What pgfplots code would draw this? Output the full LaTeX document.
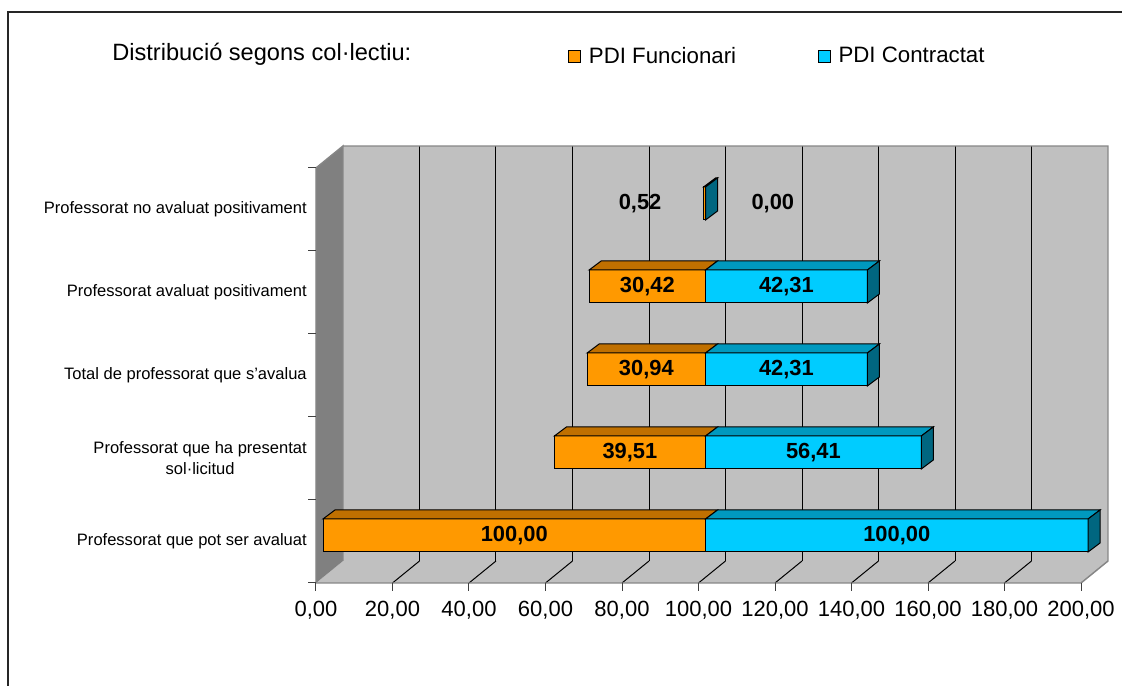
\documentclass[border=0pt]{standalone}
\usepackage{pgfplots}
\pgfplotsset{compat=1.18}
\usepackage{pgfplotstable}
\usepackage{fontspec}
\setmainfont{Liberation Sans}
\definecolor{forange}{HTML}{FF9900}
\definecolor{forangetop}{HTML}{C07000}
\definecolor{ccyan}{HTML}{00CCFF}
\definecolor{ccyantop}{HTML}{0099BF}
\definecolor{ccyanside}{HTML}{006680}
\definecolor{wall}{HTML}{C0C0C0}
\definecolor{sidewall}{HTML}{808080}
\definecolor{edge}{HTML}{868686}

\pgfplotstableread{
y F C
0 100.00 100.00
1 39.51 56.41
2 30.94 42.31
3 30.42 42.31
4 0.52 0.00
}\datatable

\pgfplotstableread{
x y l
50 0 100,00
150 0 100,00
80.245 1 39,51
128.205 1 56,41
84.53 2 30,94
121.155 2 42,31
84.79 3 30,42
121.155 3 42,31
82.9 4 0,52
117.6 4 0,00
}\labeltable

\tikzset{
  front/.style={shift={(-5.25pt,-4.5pt)}},
  back/.style={shift={(15pt,12pt)}},
  bdepth/.style={shift={(9pt,6.75pt)}},
}
\pgfplotsset{
  frame/.style={
    at={(242.25pt,81.75pt)}, anchor=south west,
    scale only axis, width=573.75pt, height=311.25pt,
    xmin=0, xmax=200, ymin=-0.5, ymax=4.5,
    clip=false,
  },
}

\begin{document}
\begin{tikzpicture}
\useasboundingbox (0,0) rectangle (841.5pt,514.5pt);
\draw[line width=1pt, black!85] (6pt,-15pt) -- (6pt,505.5pt) -- (855pt,505.5pt);
\node[anchor=base west, inner sep=0pt, font=\fontsize{17.7}{21}\selectfont] at (84pt,468.75pt) {Distribució segons col·lectiu:};
% ---------- background: walls, floor, grid, ticks, tick labels
\begin{axis}[frame,
  axis line style={draw=none},
  tick style={draw=none},
  xtick={0,20,40,60,80,100,120,140,160,180,200},
  xticklabels={{0,00},{20,00},{40,00},{60,00},{80,00},{100,00},{120,00},{140,00},{160,00},{180,00},{200,00}},
  xticklabel style={anchor=base, yshift=-30pt, xshift=-5.25pt, inner sep=0pt, font=\fontsize{16.5}{20}\selectfont},
  ytick={0,1,2,3,4},
  yticklabels={{Professorat que pot ser avaluat},{Professorat que ha presentat\\sol·licitud},{Total de professorat que s’avalua},{Professorat avaluat positivament},{Professorat no avaluat positivament}},
  yticklabel style={anchor=east, xshift=-12pt, yshift=-4.5pt, inner sep=0pt, align=center, font=\fontsize{12.4}{15.75}\selectfont},
]
\addplot[draw=none, forget plot] coordinates {(0,-0.5) (200,4.5)};
\fill[wall] ([back]axis cs:0,-0.5) rectangle ([back]axis cs:200,4.5);
\fill[wall] ([front]axis cs:0,-0.5) -- ([front]axis cs:200,-0.5) -- ([back]axis cs:200,-0.5) -- ([back]axis cs:0,-0.5) -- cycle;
\fill[sidewall] ([front]axis cs:0,-0.5) -- ([back]axis cs:0,-0.5) -- ([back]axis cs:0,4.5) -- ([front]axis cs:0,4.5) -- cycle;
\foreach \v in {20,40,60,80,100,120,140,160,180}{
  \edef\temp{\noexpand\draw[black, line width=0.75pt] ([back]axis cs:\v,-0.5) -- ([back]axis cs:\v,4.5);
  \noexpand\draw[black, line width=0.75pt] ([front]axis cs:\v,-0.5) -- ([back]axis cs:\v,-0.5);}
  \temp
}
\draw[edge, line width=1.1pt] ([back]axis cs:0,4.5) -- ([back]axis cs:200,4.5) -- ([back]axis cs:200,-0.5) -- ([front]axis cs:200,-0.5) -- ([front]axis cs:0,-0.5) -- ([front]axis cs:0,4.5) -- ([back]axis cs:0,4.5) -- ([back]axis cs:0,-0.5);
\foreach \v in {0,20,40,60,80,100,120,140,160,180,200}{
  \edef\temp{\noexpand\draw[black!75, line width=0.75pt] ([front]axis cs:\v,-0.5) -- ([front,yshift=-6pt]axis cs:\v,-0.5);}
  \temp
}
\foreach \v in {-0.5,0.5,1.5,2.5,3.5,4.5}{
  \edef\temp{\noexpand\draw[black!75, line width=0.75pt] ([front]axis cs:0,\v) -- ([front,xshift=-6pt]axis cs:0,\v);}
  \temp
}
\end{axis}
% ---------- bars
\begin{axis}[frame, hide axis,
  xbar stacked, bar width=24.75pt,
  legend style={at={(axis description cs:0.3203,1.2554)}, anchor=west, draw=none, fill=none, inner sep=0pt, legend columns=-1, font=\fontsize{16.7}{19}\selectfont, /tikz/every odd column/.append style={column sep=3.75pt}, /tikz/every even column/.append style={column sep=59.25pt}},
  legend image code/.code={\filldraw[#1, draw=black, line width=0.75pt] (0pt,-4.5pt) rectangle (9pt,4.5pt);},
]
\addplot[draw=none, fill=none, forget plot] table[x expr=100-\thisrow{F}, y=y] {\datatable};
\addplot[fill=forange, draw=black, line width=0.75pt] table[x=F, y=y] {\datatable};
\addplot[fill=ccyan, draw=black, line width=0.75pt] table[x=C, y=y] {\datatable};
\legend{PDI Funcionari, PDI Contractat}
\end{axis}
% ---------- 3d faces of the bars and value labels
\begin{axis}[frame, hide axis]
\addplot[draw=none, forget plot] coordinates {(0,-0.5) (200,4.5)};
\foreach \r in {0,1,2,3,4}{
  \pgfplotstablegetelem{\r}{F}\of\datatable \let\Fv\pgfplotsretval
  \pgfplotstablegetelem{\r}{C}\of\datatable \let\Cv\pgfplotsretval
  \pgfmathsetmacro\xa{100-\Fv}
  \pgfmathsetmacro\xc{100+\Cv}
  \edef\temp{\noexpand\filldraw[fill=forangetop, draw=black, line width=0.75pt] ([yshift=12.375pt]axis cs:\xa,\r) -- ([yshift=12.375pt]axis cs:100,\r) -- ([yshift=12.375pt,bdepth]axis cs:100,\r) -- ([yshift=12.375pt,bdepth]axis cs:\xa,\r) -- cycle;
  \noexpand\filldraw[fill=ccyantop, draw=black, line width=0.75pt] ([yshift=12.375pt]axis cs:100,\r) -- ([yshift=12.375pt]axis cs:\xc,\r) -- ([yshift=12.375pt,bdepth]axis cs:\xc,\r) -- ([yshift=12.375pt,bdepth]axis cs:100,\r) -- cycle;
  \noexpand\filldraw[fill=ccyanside, draw=black, line width=0.75pt] ([yshift=-12.375pt]axis cs:\xc,\r) -- ([yshift=12.375pt]axis cs:\xc,\r) -- ([yshift=12.375pt,bdepth]axis cs:\xc,\r) -- ([yshift=-12.375pt,bdepth]axis cs:\xc,\r) -- cycle;}
  \temp
}
\addplot[only marks, mark=none, nodes near coords, point meta=explicit symbolic, nodes near coords align={anchor=center}, nodes near coords style={anchor=center, inner sep=0pt, font=\bfseries\fontsize{16.4}{19}\selectfont, text=black}] table[x=x, y=y, meta=l] {\labeltable};
\end{axis}
\end{tikzpicture}
\end{document}
